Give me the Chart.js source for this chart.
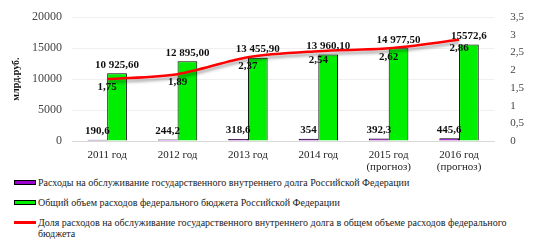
<!DOCTYPE html>
<html>
<head>
<meta charset="utf-8">
<script src="https://cdn.jsdelivr.net/npm/chart.js@4/dist/chart.umd.min.js"></script>
<style>
  body { margin: 0; background: #fff; font-family: 'Liberation Serif', serif; }
  #wrap { width: 540px; height: 176px; position: relative; }
  #legend { margin-left: 14px; font-size: 10px; color: #222; line-height: 11px; }
  .item { display: flex; align-items: flex-start; margin-top: 9px; }
  .item:first-child { margin-top: 1px; }
  .mark { width: 22px; height: 5px; flex: none; margin-top: 3px; margin-right: 2px; box-sizing: border-box; border: 1px solid #000; }
  .mark.line { height: 3px; border: none; margin-top: 4px; background: #f00; }
</style>
</head>
<body>
<div id="wrap"><canvas id="c"></canvas></div>
<div id="legend">
  <div class="item"><span class="mark" style="background:#9b00d0"></span><span>Расходы на обслуживание государственного внутреннего долга Российской Федерации</span></div>
  <div class="item"><span class="mark" style="background:#00ee00"></span><span>Общий объем расходов федерального бюджета Российской Федерации</span></div>
  <div class="item"><span class="mark line"></span><span>Доля расходов на обслуживание государственного внутреннего долга в общем объеме расходов федерального бюджета</span></div>
</div>
<script>
const years = [['2011 год'], ['2012 год'], ['2013 год'], ['2014 год'], ['2015 год', '(прогноз)'], ['2016 год', '(прогноз)']];
const debtCost = [190.6, 244.2, 318.6, 354, 392.3, 445.6];
const debtCostLabels = ['190,6', '244,2', '318,6', '354', '392,3', '445,6'];
const budget = [10925.6, 12895.0, 13455.9, 13960.1, 14977.5, 15572.6];
const budgetLabels = ['10 925,60', '12 895,00', '13 455,90', '13 960,10', '14 977,50', '15572,6'];
const share = [1.75, 1.89, 2.37, 2.54, 2.62, 2.86];
const shareLabels = ['1,75', '1,89', '2,37', '2,54', '2,62', '2,86'];
const leftTicks = ['0', '5000', '10000', '15000', '20000'];
const rightTicks = ['0', '0,5', '1', '1,5', '2', '2,5', '3', '3,5'];

const serif = "'Liberation Serif', 'Times New Roman', serif";

// shadow under the red line
const lineShadow = {
  id: 'lineShadow',
  beforeDatasetDraw(chart, args) {
    if (args.index !== 2) return;
    const ctx = chart.ctx;
    ctx.save();
    ctx.shadowColor = 'rgba(0,0,0,0.35)';
    ctx.shadowBlur = 3;
    ctx.shadowOffsetY = 3;
  },
  afterDatasetDraw(chart, args) {
    if (args.index !== 2) return;
    chart.ctx.restore();
  }
};

// value labels drawn from the element positions
const valueLabels = {
  id: 'valueLabels',
  afterDatasetsDraw(chart) {
    const ctx = chart.ctx;
    ctx.save();
    ctx.font = 'bold 11px ' + serif;
    ctx.fillStyle = '#111';
    ctx.textAlign = 'center';
    const sets = [debtCostLabels, budgetLabels, shareLabels];
    sets.forEach((labels, di) => {
      const meta = chart.getDatasetMeta(di);
      meta.data.forEach((el, i) => {
        if (di === 2) {
          ctx.textBaseline = 'top';
          ctx.fillText(labels[i], el.x, el.y + 3);
        } else {
          ctx.textBaseline = 'bottom';
          ctx.fillText(labels[i], el.x, el.y - 3);
        }
      });
    });
    ctx.restore();
  }
};

new Chart(document.getElementById('c'), {
  type: 'bar',
  data: {
    labels: years,
    datasets: [
      {
        label: 'Расходы на обслуживание государственного внутреннего долга Российской Федерации',
        data: debtCost,
        backgroundColor: '#9b00d0',
        borderColor: '#000',
        borderWidth: 1,
        yAxisID: 'y',
        categoryPercentage: 0.56,
        barPercentage: 1,
        order: 2
      },
      {
        label: 'Общий объем расходов федерального бюджета Российской Федерации',
        data: budget,
        backgroundColor: '#00ee00',
        borderColor: '#000',
        borderWidth: 1,
        yAxisID: 'y',
        categoryPercentage: 0.56,
        barPercentage: 1,
        order: 2
      },
      {
        type: 'line',
        label: 'Доля расходов на обслуживание государственного внутреннего долга в общем объеме расходов федерального бюджета',
        data: share,
        borderColor: '#ff0000',
        borderWidth: 2.5,
        pointRadius: 0,
        tension: 0.3,
        yAxisID: 'y1',
        order: 1
      }
    ]
  },
  options: {
    responsive: true,
    maintainAspectRatio: false,
    animation: false,
    layout: { padding: { left: 10, right: 8, top: 3, bottom: 0 } },
    plugins: {
      legend: { display: false },
      tooltip: { enabled: false }
    },
    scales: {
      x: {
        grid: { display: false },
        border: { display: true, color: '#d9d9d9' },
        ticks: { color: '#222', font: { family: serif, size: 11, lineHeight: 1.1 }, maxRotation: 0, padding: 0 },
        afterFit(axis) { axis.height = 35; }
      },
      y: {
        position: 'left',
        min: 0,
        max: 20000,
        afterBuildTicks(axis) { axis.ticks = leftTicks.map((t, i) => ({ value: i * 5000 })); },
        grid: { color: '#f0f0f0', drawTicks: false },
        border: { display: false },
        ticks: {
          color: '#444',
          font: { family: serif, size: 12 },
          padding: 10,
          callback: (v, i) => leftTicks[i]
        },
        title: { display: true, text: 'млрд.руб.', color: '#111', font: { family: serif, size: 10, weight: 'bold' }, padding: 0 }
      },
      y1: {
        position: 'right',
        min: 0,
        max: 3.5,
        afterBuildTicks(axis) { axis.ticks = rightTicks.map((t, i) => ({ value: i * 0.5 })); },
        grid: { display: false },
        border: { display: false },
        ticks: {
          color: '#444',
          font: { family: serif, size: 11 },
          padding: 8,
          autoSkip: false,
          callback: (v, i) => rightTicks[i]
        }
      }
    }
  },
  plugins: [lineShadow, valueLabels]
});
</script>
</body>
</html>
